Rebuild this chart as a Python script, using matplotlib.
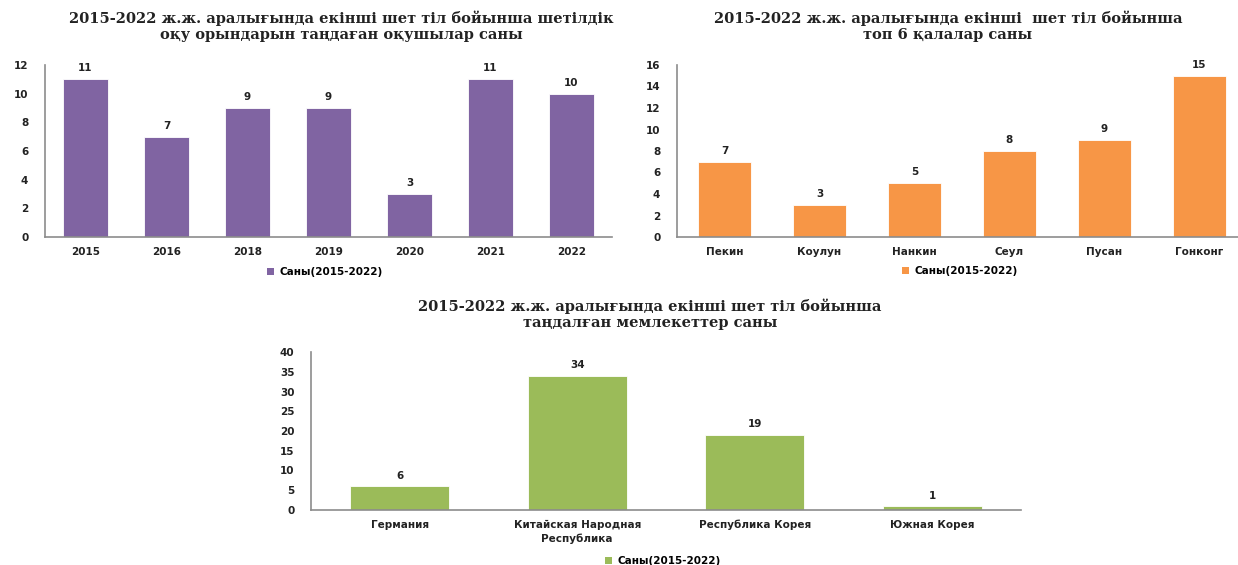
import matplotlib
matplotlib.use('Agg')
import matplotlib.pyplot as plt
from matplotlib.patches import Patch

# chart 1: students by year
years = ['2015', '2016', '2018', '2019', '2020', '2021', '2022']
students = [11, 7, 9, 9, 3, 11, 10]

# chart 2: top 6 cities
cities = ['Пекин', 'Коулун', 'Нанкин', 'Сеул', 'Пусан', 'Гонконг']
city_counts = [7, 3, 5, 8, 9, 15]

# chart 3: countries
countries = ['Германия', 'Китайская Народная\nРеспублика', 'Республика Корея', 'Южная Корея']
country_counts = [6, 34, 19, 1]

legend_label = 'Саны(2015-2022)'
title1 = '2015-2022 ж.ж. аралығында екінші шет тіл бойынша шетілдік\nоқу орындарын таңдаған оқушылар саны'
title2 = '2015-2022 ж.ж. аралығында екінші  шет тіл бойынша\nтоп 6 қалалар саны'
title3 = '2015-2022 ж.ж. аралығында екінші шет тіл бойынша\nтаңдалған мемлекеттер саны'

W, H = 1238, 565
SMALL = 7.5
fig = plt.figure(figsize=(W / 100, H / 100), dpi=100)


def px_axes(x0, y0, x1, y1):
    # axes from pixel box (top-left origin)
    return fig.add_axes([x0 / W, 1 - y1 / H, (x1 - x0) / W, (y1 - y0) / H])


def bar_panel(ax, cats, vals, color, ymax, step):
    x = range(len(cats))
    ax.bar(x, vals, width=0.56, color=color, edgecolor='white', linewidth=0.6)
    for xi, v in zip(x, vals):
        ax.text(xi, v + ymax * 0.035, str(v), ha='center', va='bottom',
                fontsize=SMALL, fontweight='bold', color='#222222')
    ax.set_xlim(-0.5, len(cats) - 0.5)
    ax.set_ylim(0, ymax)
    ax.set_yticks(range(0, ymax + 1, step))
    ax.set_xticks(list(x))
    ax.set_xticklabels(cats, fontsize=SMALL, color='#222222', linespacing=1.4)
    ax.tick_params(axis='y', labelsize=SMALL, labelcolor='#222222', length=0, pad=12)
    ax.tick_params(axis='x', length=0, pad=7)
    for lab in ax.get_yticklabels() + ax.get_xticklabels():
        lab.set_fontweight('bold')
    for s in ['top', 'right']:
        ax.spines[s].set_visible(False)
    for s in ['left', 'bottom']:
        ax.spines[s].set_color('#8c8c8c')
        ax.spines[s].set_linewidth(1.2)


ax1 = px_axes(45, 65, 612, 237)
bar_panel(ax1, years, students, '#8064A2', 12, 2)

ax2 = px_axes(677, 65, 1247, 237)
bar_panel(ax2, cities, city_counts, '#F79646', 16, 2)

ax3 = px_axes(311, 352, 1021, 510)
bar_panel(ax3, countries, country_counts, '#9BBB59', 40, 5)

tfont = dict(family='DejaVu Serif', fontsize=10.5, fontweight='bold',
             ha='center', va='center', linespacing=1.15, color='#222222')
fig.text(341 / W, 1 - 26 / H, title1, **tfont)
fig.text(948 / W, 1 - 26 / H, title2, **tfont)
fig.text(650 / W, 1 - 314 / H, title3, **tfont)


def legend_at(color, cx, cy):
    h = Patch(facecolor=color, edgecolor='none')
    fig.legend([h], [legend_label], loc='center', bbox_to_anchor=(cx / W, 1 - cy / H),
               frameon=False, prop=dict(size=SMALL, weight='bold'),
               handlelength=0.7, handleheight=0.7, handletextpad=0.5)


legend_at('#8064A2', 325, 272)
legend_at('#F79646', 960, 271)
legend_at('#9BBB59', 663, 561)

fig.savefig('out.png', dpi=100)
